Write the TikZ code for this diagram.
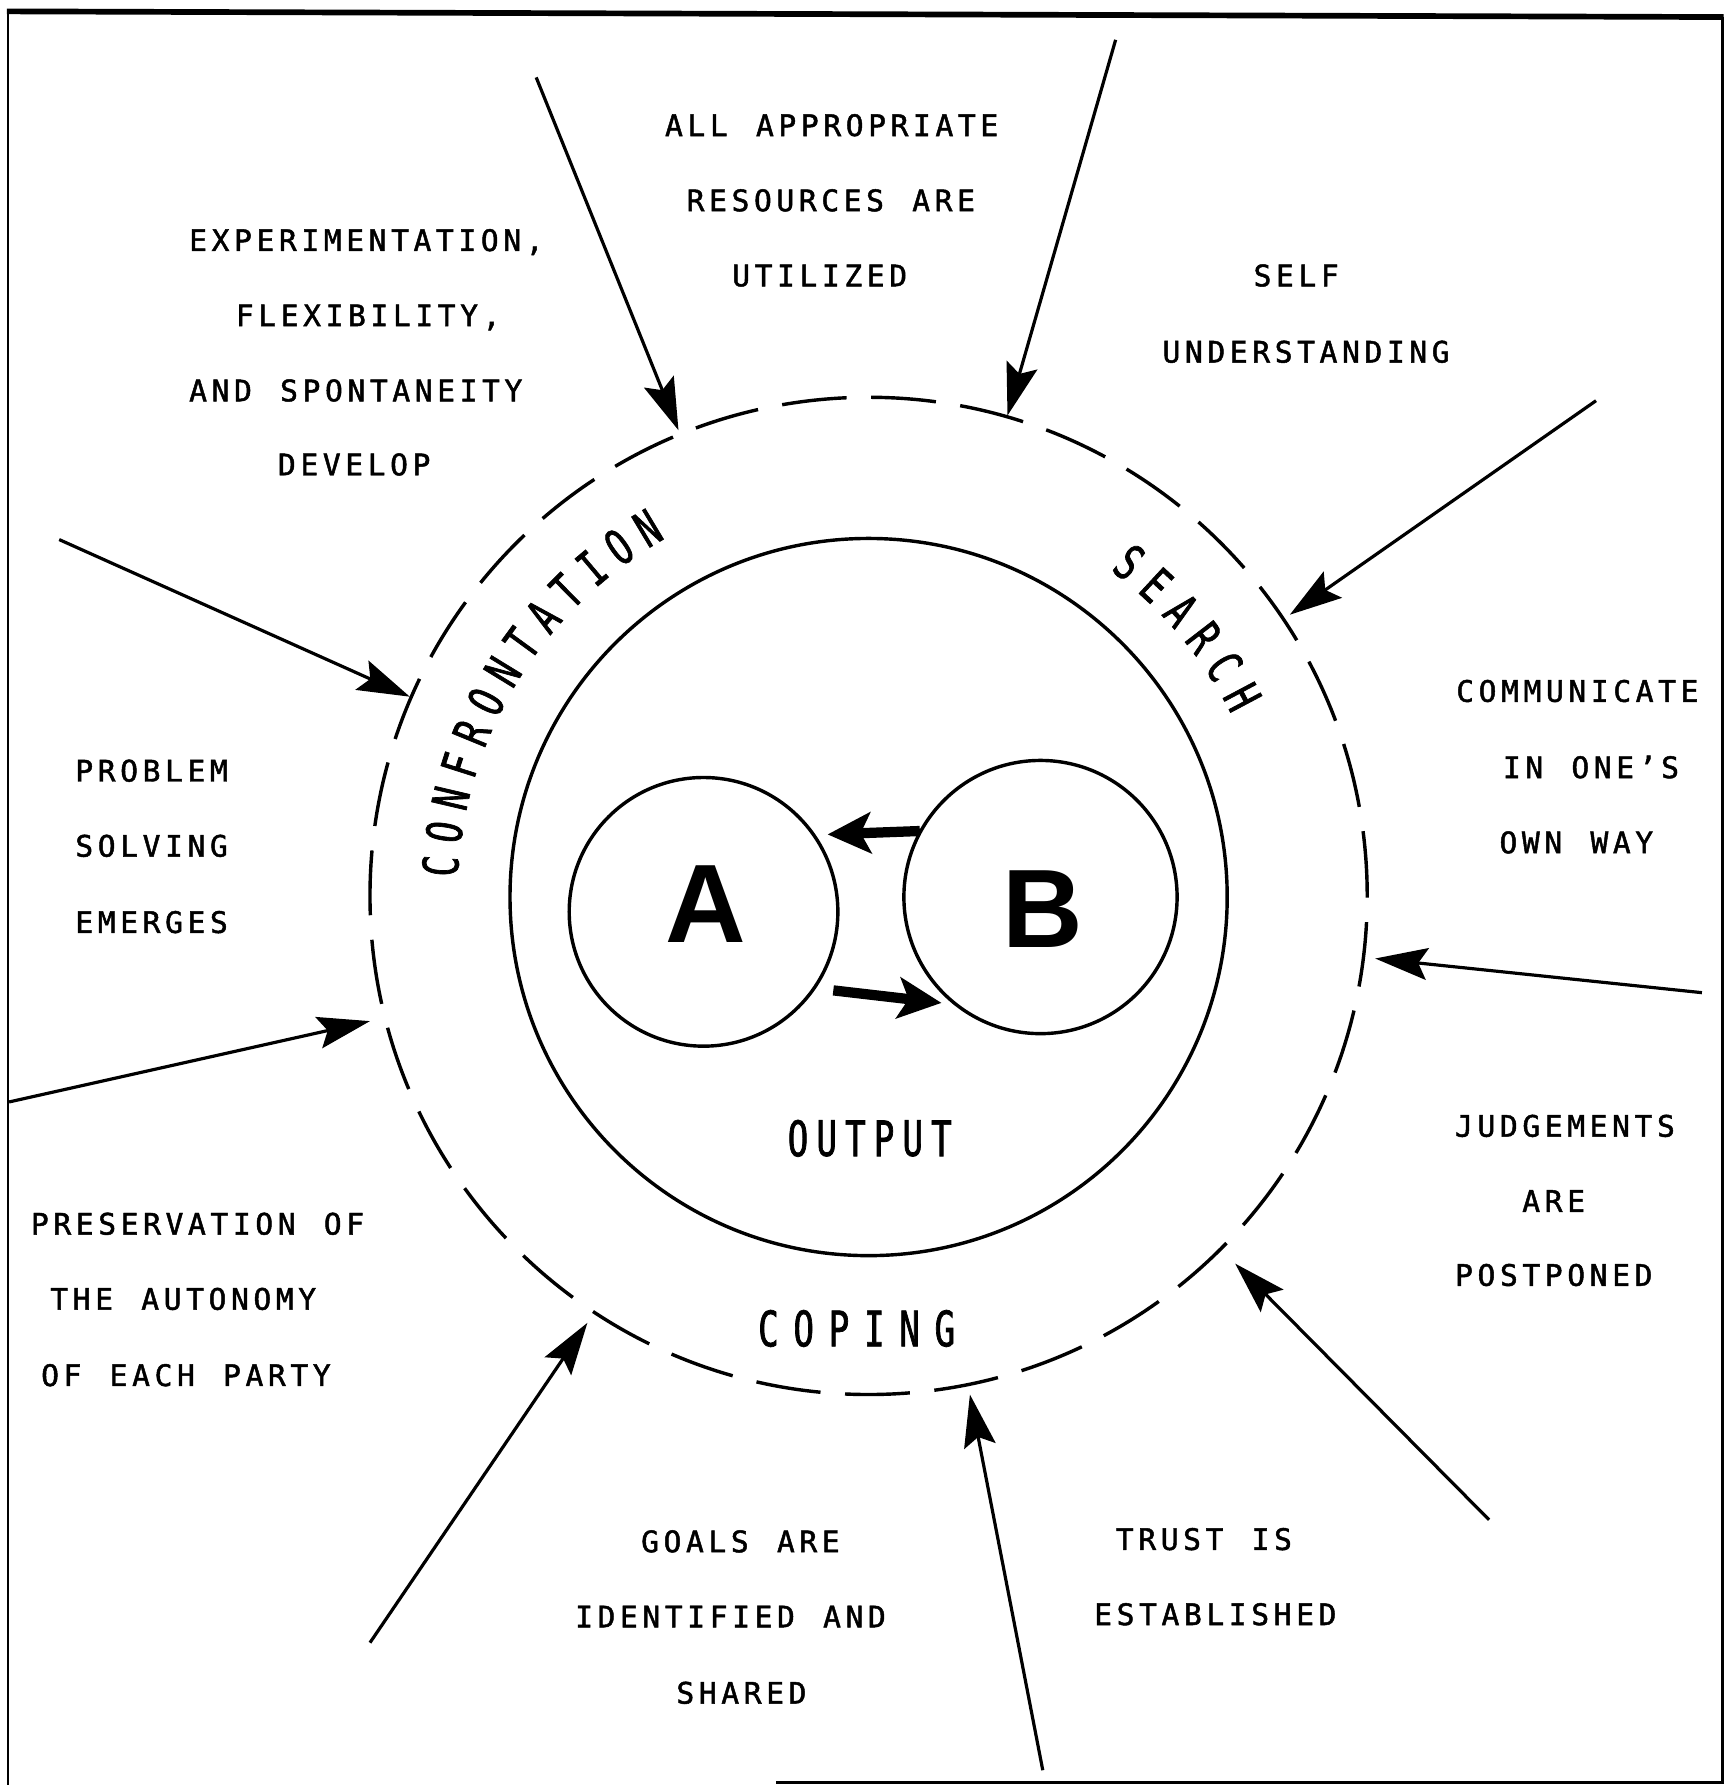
\documentclass[tikz,border=0pt]{standalone}
\usepackage{fontspec}
\usetikzlibrary{arrows.meta}
% typewriter lettering for the notes, a narrow variant for the ring labels
\newfontfamily\notefont[LetterSpace=15.6,WordSpace=1.26,FakeBold=1.6]{DejaVu Sans Mono}
\newfontfamily\ringfont[FakeStretch=0.7,FakeBold=1.4]{DejaVu Sans Mono}
\newfontfamily\partyfont{Liberation Sans}
\tikzset{
  note/.style={anchor=base west, inner sep=0pt, font=\notefont\fontsize{26}{26}\selectfont},
  ringletter/.style={inner sep=0pt, font=\ringfont\fontsize{43}{43}\selectfont},
  party/.style={inner sep=0pt, font=\partyfont\bfseries\fontsize{98}{98}\selectfont},
  ringline/.style={circle, draw, line width=3pt, inner sep=0pt, outer sep=0pt},
  influence/.style={line width=2.8pt, -{Stealth[length=46pt,width=28pt,inset=8pt]}},
  exchange/.style={line width=9pt, -{Stealth[length=38pt,width=36pt,inset=9pt]}}
}
\begin{document}
\begin{tikzpicture}[x=1pt,y=1pt]
\fill[white] (0,0) rectangle (1522,1568);
\useasboundingbox (0,0) rectangle (1522,1568);

% frame
\draw[line width=5pt] (6,1558) -- (1514,1553);
\draw[line width=2.5pt] (7,1558) -- (7,0);
\draw[line width=2.5pt] (1513,1553) -- (1513,2);
\draw[line width=3pt] (682,2) -- (1514,2);

% rings and parties
\node[ringline, minimum size=876pt, dash pattern=on 57pt off 21.6pt] (ring) at (763,781) {};
\node[ringline, minimum size=630pt] (core) at (763,780) {};
\node[ringline, minimum size=236pt] (circA) at (618,767) {};
\node[ringline, minimum size=240pt] (circB) at (914,780) {};
\node[party] (labA) at (620,774) {A};
\node[party] (labB) at (916,769) {B};

% exchange between the parties
\coordinate (ba-from) at (808,838);
\coordinate (ba-to) at (727,835);
\coordinate (ab-from) at (732,698);
\coordinate (ab-to) at (827,687);
\draw[exchange] (ba-from) -- (ba-to);
\draw[exchange] (ab-from) -- (ab-to);

% ring labels
\foreach \ch [count=\i, evaluate=\i as \a using 176-(\i-1)*4.583] in {C,O,N,F,R,O,N,T,A,T,I,O,N}
  \path (ring.center) ++(\a:377) node[ringletter, rotate=\a-90] (conf-\i) {\ch};
\foreach \ch [count=\i, evaluate=\i as \a using 52-(\i-1)*4.8] in {S,E,A,R,C,H}
  \path (ring.center) ++(\a:372) node[ringletter, rotate=\a-90] (search-\i) {\ch};
\foreach \ch [count=\i, evaluate=\i as \x using 675+(\i-1)*31] in {C,O,P,I,N,G}
  \node[ringletter] (coping-\i) at (\x,401) {\ch};
\foreach \ch [count=\i, evaluate=\i as \x using 701+(\i-1)*25.2] in {O,U,T,P,U,T}
  \node[ringletter] (output-\i) at (\x,568) {\ch};

% notes around the ring
\node[note] (all-1) at (584,1448.5) {ALL APPROPRIATE};
\node[note] (all-2) at (603,1382.5) {RESOURCES ARE};
\node[note] (all-3) at (643,1316.5) {UTILIZED};

\node[note] (exp-1) at (166,1347.5) {EXPERIMENTATION,};
\node[note] (exp-2) at (207,1281.5) {FLEXIBILITY,};
\node[note] (exp-3) at (166,1215.5) {AND SPONTANEITY};
\node[note] (exp-4) at (244,1150.5) {DEVELOP};

\node[note] (self-1) at (1101,1316.5) {SELF};
\node[note] (self-2) at (1021,1249.5) {UNDERSTANDING};

\node[note] (comm-1) at (1279,951.5) {COMMUNICATE};
\node[note] (comm-2) at (1320,884.5) {IN ONE’S};
\node[note] (comm-3) at (1317,818.5) {OWN WAY};

\node[note] (judg-1) at (1278,569.5) {JUDGEMENTS};
\node[note] (judg-2) at (1337,503.5) {ARE};
\node[note] (judg-3) at (1278,438.5) {POSTPONED};

\node[note] (trust-1) at (980,206.5) {TRUST IS};
\node[note] (trust-2) at (961,140.5) {ESTABLISHED};

\node[note] (goals-1) at (563,204.5) {GOALS ARE};
\node[note] (goals-2) at (505,138.5) {IDENTIFIED AND};
\node[note] (goals-3) at (594,71.5) {SHARED};

\node[note] (pres-1) at (27,483.5) {PRESERVATION OF};
\node[note] (pres-2) at (44,417.5) {THE AUTONOMY};
\node[note] (pres-3) at (36,350.5) {OF EACH PARTY};

\node[note] (prob-1) at (66,881.5) {PROBLEM};
\node[note] (prob-2) at (66,815.5) {SOLVING};
\node[note] (prob-3) at (66,748.5) {EMERGES};

% influences pressing on the ring
\coordinate (in1-from) at (471,1500);  \coordinate (in1-to) at (596,1190);
\coordinate (in2-from) at (980,1533);  \coordinate (in2-to) at (885,1203);
\coordinate (in3-from) at (1402,1216); \coordinate (in3-to) at (1133,1028);
\coordinate (in4-from) at (1495,696);  \coordinate (in4-to) at (1208,726);
\coordinate (in5-from) at (1308,233);  \coordinate (in5-to) at (1085,458);
\coordinate (in6-from) at (916,13);    \coordinate (in6-to) at (852,343);
\coordinate (in7-from) at (325,125);   \coordinate (in7-to) at (516,406);
\coordinate (in8-from) at (8,600);     \coordinate (in8-to) at (325,671);
\coordinate (in9-from) at (52,1094);   \coordinate (in9-to) at (360,956);
\foreach \k in {1,...,9}
  \draw[influence] (in\k-from) -- (in\k-to);
\end{tikzpicture}
\end{document}
